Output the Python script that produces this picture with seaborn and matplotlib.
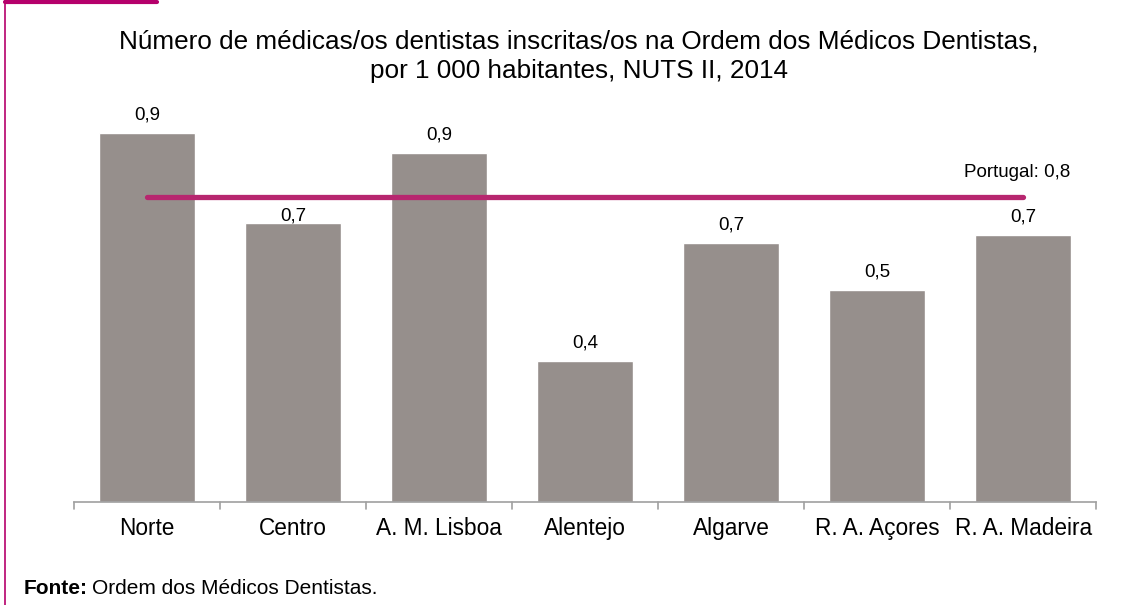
import pandas as pd
import matplotlib.pyplot as plt
import seaborn as sns
from matplotlib.lines import Line2D

regions = ['Norte', 'Centro', 'A. M. Lisboa', 'Alentejo', 'Algarve', 'R. A. Açores', 'R. A. Madeira']
values = [0.94, 0.71, 0.89, 0.36, 0.66, 0.54, 0.68]
labels = ['0,9', '0,7', '0,9', '0,4', '0,7', '0,5', '0,7']
portugal = 0.777
portugal_label = 'Portugal: 0,8'

df = pd.DataFrame({'regiao': regions, 'valor': values})

sns.set_style('white')
plt.rcParams['font.family'] = ['Liberation Sans', 'DejaVu Sans']
plt.rcParams['text.color'] = 'black'
plt.rcParams['xtick.color'] = 'black'

fig = plt.figure(figsize=(11.3, 6.05), dpi=100)
ax = fig.add_axes([0.0655, 0.170, 0.9045, 0.649])
sns.barplot(data=df, x='regiao', y='valor', color='#968F8C', width=0.66, saturation=1, ax=ax)

ax.set_xlim(-0.5, 6.5)
ax.set_ylim(0, 1.0)
ax.plot([0, 6], [portugal, portugal], color='#B7266F', lw=3.8, solid_capstyle='round', zorder=3)
ax.text(6.32, portugal + 0.062, portugal_label, ha='right', va='center', fontsize=13.5)

for i, (v, lab) in enumerate(zip(values, labels)):
    off = 7 if i == 1 else 18
    ax.annotate(lab, (i, v), xytext=(0, off), textcoords='offset pixels',
                ha='center', va='center', fontsize=13.5)

for s in ['top', 'right', 'left']:
    ax.spines[s].set_visible(False)
ax.spines['bottom'].set_color('#A0A0A0')
ax.spines['bottom'].set_linewidth(1.2)
ax.set_yticks([])
ax.set_xticks(range(len(regions)))
ax.set_xticklabels(regions, fontsize=16.3)
ax.tick_params(axis='x', length=0, pad=11)
for b in [x - 0.5 for x in range(len(regions) + 1)]:
    ax.plot([b, b], [0, -0.018], color='#A0A0A0', lw=1.2, clip_on=False)
ax.set_xlabel('')
ax.set_ylabel('')

fig.text(0.512, 0.907, 'Número de médicas/os dentistas inscritas/os na Ordem dos Médicos Dentistas,\npor 1 000 habitantes, NUTS II, 2014',
         ha='center', va='center', fontsize=18.8, linespacing=1.3)
t = fig.text(0.0205, 0.028, 'Fonte:', fontsize=15, fontweight='bold', va='center')
fig.canvas.draw()
bb = t.get_window_extent()
fig.text(bb.x1 / fig.bbox.width + 0.004, 0.028, 'Ordem dos Médicos Dentistas.', fontsize=15, va='center')

fig.add_artist(Line2D([0.0045, 0.0045], [0, 1], color='#B5006B', lw=1.2))
fig.add_artist(Line2D([0.004, 0.139], [0.9975, 0.9975], color='#B5006B', lw=3))

fig.savefig('out.png', dpi=100)
